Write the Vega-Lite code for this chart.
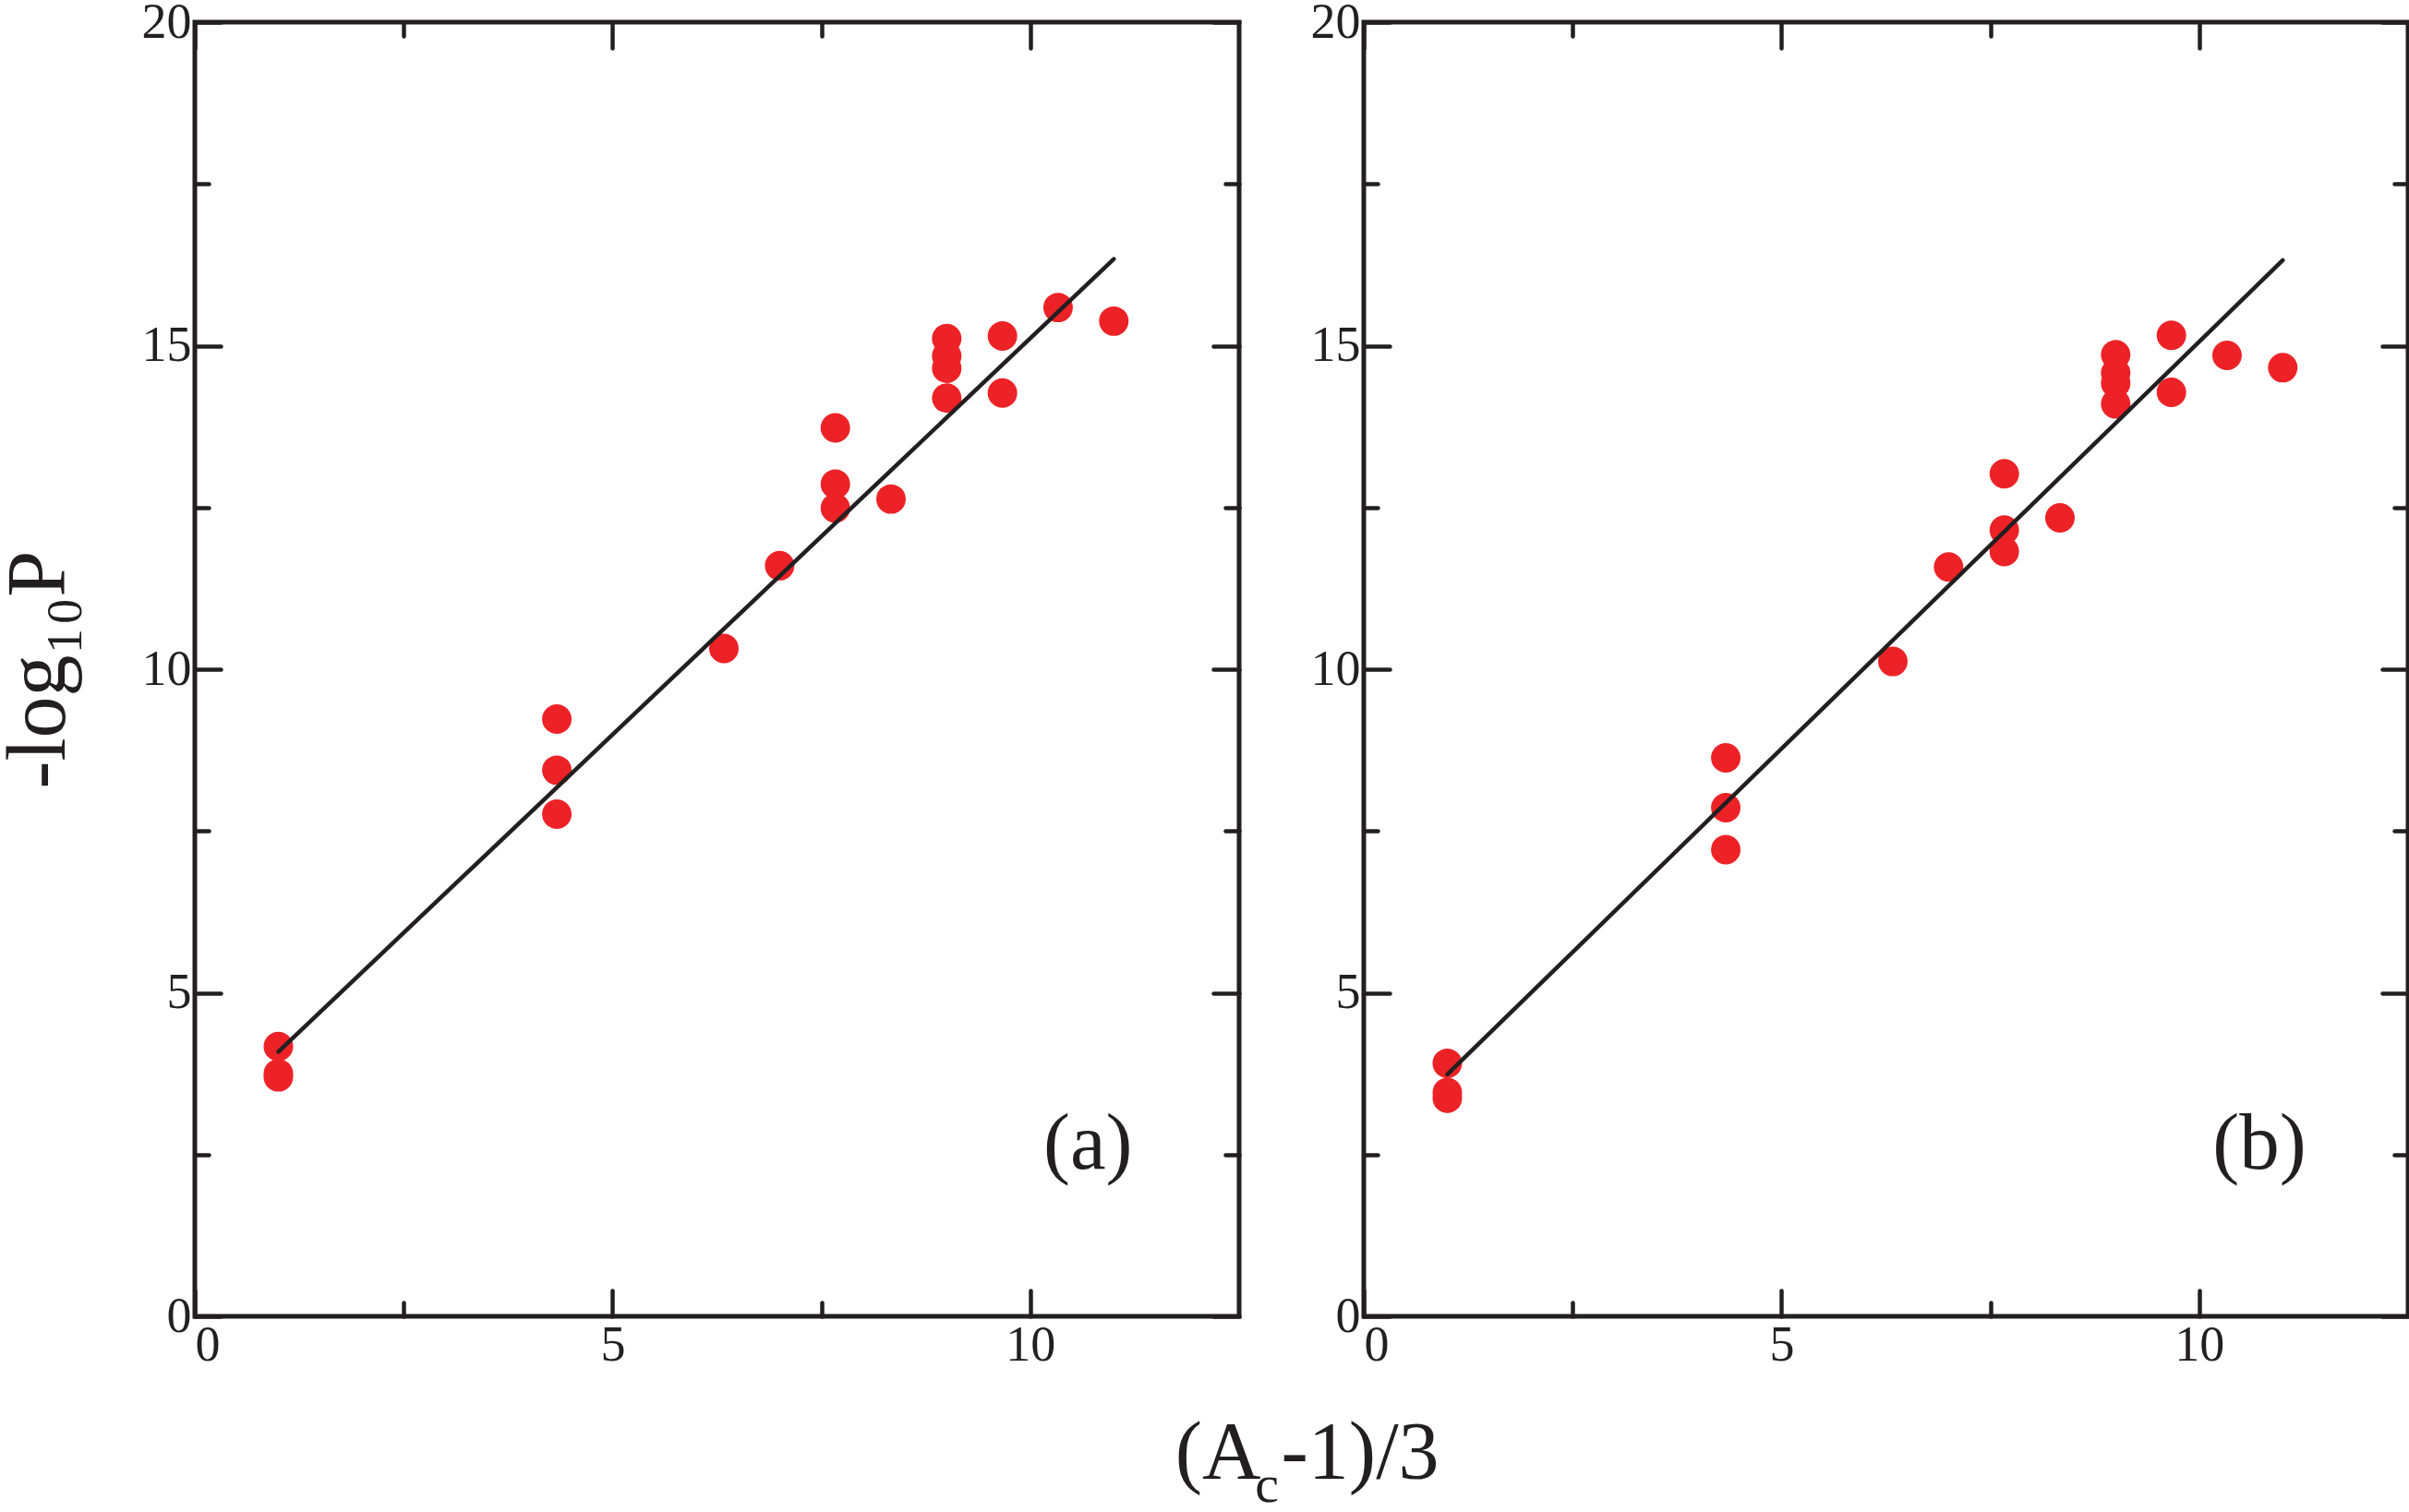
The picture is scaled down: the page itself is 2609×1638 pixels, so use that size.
{
  "$schema": "https://vega.github.io/schema/vega-lite/v6.json",
  "background": "white",
  "padding": {"left": -6, "top": -6, "right": 0, "bottom": 0},
  "config": {
    "font": "Liberation Serif",
    "view": {"stroke": "#231f20", "strokeWidth": 5},
    "title": {"font": "Liberation Serif", "subtitleFont": "Liberation Serif"},
    "axis": {"grid": false, "domain": false, "tickColor": "#231f20", "tickWidth": 4.5, "tickCap": "round", "labelColor": "#231f20", "labelFont": "Liberation Serif", "labelFontSize": 54, "titleColor": "#231f20", "titleFont": "Liberation Serif", "titleFontWeight": "normal"}
  },
  "datasets": {
    "points": [
      {"panel": "a", "x": 1, "y": 4.17}, {"panel": "a", "x": 1, "y": 3.75}, {"panel": "a", "x": 1, "y": 3.70},
      {"panel": "a", "x": 4.333, "y": 9.23}, {"panel": "a", "x": 4.333, "y": 8.44}, {"panel": "a", "x": 4.333, "y": 7.76},
      {"panel": "a", "x": 6.333, "y": 10.32},
      {"panel": "a", "x": 7, "y": 11.60},
      {"panel": "a", "x": 7.667, "y": 13.73}, {"panel": "a", "x": 7.667, "y": 12.86}, {"panel": "a", "x": 7.667, "y": 12.49},
      {"panel": "a", "x": 8.333, "y": 12.63},
      {"panel": "a", "x": 9, "y": 15.11}, {"panel": "a", "x": 9, "y": 14.84}, {"panel": "a", "x": 9, "y": 14.65}, {"panel": "a", "x": 9, "y": 14.19},
      {"panel": "a", "x": 9.667, "y": 15.15}, {"panel": "a", "x": 9.667, "y": 14.27},
      {"panel": "a", "x": 10.333, "y": 15.59},
      {"panel": "a", "x": 11, "y": 15.38},
      {"panel": "b", "x": 1, "y": 3.91}, {"panel": "b", "x": 1, "y": 3.46}, {"panel": "b", "x": 1, "y": 3.37},
      {"panel": "b", "x": 4.333, "y": 8.63}, {"panel": "b", "x": 4.333, "y": 7.86}, {"panel": "b", "x": 4.333, "y": 7.21},
      {"panel": "b", "x": 6.333, "y": 10.12},
      {"panel": "b", "x": 7, "y": 11.58},
      {"panel": "b", "x": 7.667, "y": 13.02}, {"panel": "b", "x": 7.667, "y": 12.15}, {"panel": "b", "x": 7.667, "y": 11.82},
      {"panel": "b", "x": 8.333, "y": 12.34},
      {"panel": "b", "x": 9, "y": 14.86}, {"panel": "b", "x": 9, "y": 14.58}, {"panel": "b", "x": 9, "y": 14.42}, {"panel": "b", "x": 9, "y": 14.10},
      {"panel": "b", "x": 9.667, "y": 15.16}, {"panel": "b", "x": 9.667, "y": 14.28},
      {"panel": "b", "x": 10.333, "y": 14.85},
      {"panel": "b", "x": 11, "y": 14.66}
    ],
    "fit": [
      {"panel": "a", "x": 1, "y": 4.09}, {"panel": "a", "x": 11, "y": 16.34},
      {"panel": "b", "x": 1, "y": 3.74}, {"panel": "b", "x": 11, "y": 16.32}
    ],
    "labels": [
      {"panel": "a", "label": "(a)"},
      {"panel": "b", "label": "(b)"}
    ]
  },
  "title": {
    "text": "(A\u00a0-1)/3",
    "subtitle": "c\u00a0\u00a0\u00a0\u00a0\u00a0\u00a0\u200b",
    "orient": "bottom",
    "anchor": "middle",
    "dx": 112,
    "font": "Liberation Serif",
    "fontSize": 88,
    "fontWeight": "normal",
    "color": "#231f20",
    "subtitleFont": "Liberation Serif",
    "subtitleFontSize": 58,
    "subtitleColor": "#231f20",
    "subtitlePadding": -38,
    "offset": 44
  },
  "spacing": 69,
  "hconcat": [
    {
      "width": 1131,
      "height": 1402,
      "resolve": {"axis": {"x": "independent", "y": "independent"}},
      "layer": [
        {
          "data": {"name": "points"},
          "transform": [{"filter": "datum.panel == 'a'"}],
          "mark": {"type": "point", "shape": "circle", "filled": true, "size": 1020, "color": "#ed2227", "opacity": 1, "strokeWidth": 0},
          "encoding": {
            "x": {"field": "x", "type": "quantitative", "scale": {"domain": [0, 12.5], "nice": false}, "axis": {"orient": "bottom", "values": [0, 5, 10], "tickSize": -28, "labelPadding": 32, "title": null}},
            "y": {"field": "y", "type": "quantitative", "scale": {"domain": [0, 20], "nice": false}, "axis": {"orient": "left", "values": [0, 5, 10, 15, 20], "tickSize": -28, "labelPadding": 32, "title": "-log\u2081\u2080P", "titleFontSize": 90, "titlePadding": 65}}
          }
        },
        {
          "data": {"name": "fit"},
          "transform": [{"filter": "datum.panel == 'a'"}],
          "mark": {"type": "line", "color": "#231f20", "strokeWidth": 4.5, "strokeCap": "round"},
          "encoding": {
            "x": {"field": "x", "type": "quantitative", "axis": {"orient": "bottom", "values": [2.5, 7.5], "tickSize": -15, "labels": false, "title": null}},
            "y": {"field": "y", "type": "quantitative", "axis": {"orient": "left", "values": [2.5, 7.5, 12.5, 17.5], "tickSize": -15, "labels": false, "title": null}}
          }
        },
        {
          "data": {"name": "labels"},
          "transform": [{"filter": "datum.panel == 'a'"}],
          "mark": {"type": "text", "fontSize": 87, "color": "#231f20", "align": "center", "baseline": "middle"},
          "encoding": {
            "text": {"field": "label"},
            "x": {"datum": 10.69, "type": "quantitative", "axis": {"orient": "top", "values": [0, 5, 10], "tickSize": -28, "labels": false, "title": null}},
            "y": {"datum": 2.65, "type": "quantitative", "axis": {"orient": "right", "values": [0, 5, 10, 15, 20], "tickSize": -28, "labels": false, "title": null}}
          }
        },
        {
          "data": {"name": "labels"},
          "transform": [{"filter": "datum.panel == 'a'"}],
          "mark": {"type": "text", "text": ""},
          "encoding": {
            "x": {"datum": 0, "type": "quantitative", "axis": {"orient": "top", "values": [2.5, 7.5], "tickSize": -15, "labels": false, "title": null}},
            "y": {"datum": 0, "type": "quantitative", "axis": {"orient": "right", "values": [2.5, 7.5, 12.5, 17.5], "tickSize": -15, "labels": false, "title": null}}
          }
        }
      ]
    },
    {
      "width": 1131,
      "height": 1402,
      "resolve": {"axis": {"x": "independent", "y": "independent"}},
      "layer": [
        {
          "data": {"name": "points"},
          "transform": [{"filter": "datum.panel == 'b'"}],
          "mark": {"type": "point", "shape": "circle", "filled": true, "size": 1020, "color": "#ed2227", "opacity": 1, "strokeWidth": 0},
          "encoding": {
            "x": {"field": "x", "type": "quantitative", "scale": {"domain": [0, 12.5], "nice": false}, "axis": {"orient": "bottom", "values": [0, 5, 10], "tickSize": -28, "labelPadding": 32, "title": null}},
            "y": {"field": "y", "type": "quantitative", "scale": {"domain": [0, 20], "nice": false}, "axis": {"orient": "left", "values": [0, 5, 10, 15, 20], "tickSize": -28, "labelPadding": 32, "title": null}}
          }
        },
        {
          "data": {"name": "fit"},
          "transform": [{"filter": "datum.panel == 'b'"}],
          "mark": {"type": "line", "color": "#231f20", "strokeWidth": 4.5, "strokeCap": "round"},
          "encoding": {
            "x": {"field": "x", "type": "quantitative", "axis": {"orient": "bottom", "values": [2.5, 7.5], "tickSize": -15, "labels": false, "title": null}},
            "y": {"field": "y", "type": "quantitative", "axis": {"orient": "left", "values": [2.5, 7.5, 12.5, 17.5], "tickSize": -15, "labels": false, "title": null}}
          }
        },
        {
          "data": {"name": "labels"},
          "transform": [{"filter": "datum.panel == 'b'"}],
          "mark": {"type": "text", "fontSize": 87, "color": "#231f20", "align": "center", "baseline": "middle"},
          "encoding": {
            "text": {"field": "label"},
            "x": {"datum": 10.72, "type": "quantitative", "axis": {"orient": "top", "values": [0, 5, 10], "tickSize": -28, "labels": false, "title": null}},
            "y": {"datum": 2.65, "type": "quantitative", "axis": {"orient": "right", "values": [0, 5, 10, 15, 20], "tickSize": -28, "labels": false, "title": null}}
          }
        },
        {
          "data": {"name": "labels"},
          "transform": [{"filter": "datum.panel == 'b'"}],
          "mark": {"type": "text", "text": ""},
          "encoding": {
            "x": {"datum": 0, "type": "quantitative", "axis": {"orient": "top", "values": [2.5, 7.5], "tickSize": -15, "labels": false, "title": null}},
            "y": {"datum": 0, "type": "quantitative", "axis": {"orient": "right", "values": [2.5, 7.5, 12.5, 17.5], "tickSize": -15, "labels": false, "title": null}}
          }
        }
      ]
    }
  ]
}
